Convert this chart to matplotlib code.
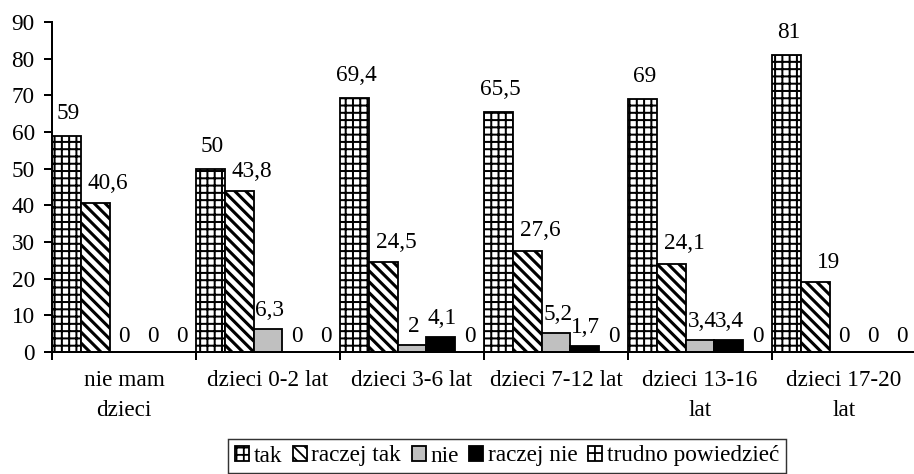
import numpy as np
import matplotlib.pyplot as plt

DPI = 131

categories = ['nie mam\ndzieci', 'dzieci 0-2 lat', 'dzieci 3-6 lat',
              'dzieci 7-12 lat', 'dzieci 13-16\nlat', 'dzieci 17-20\nlat']
series_names = ['tak', 'raczej tak', 'nie', 'raczej nie', 'trudno powiedzieć']

tak = [59, 50, 69.4, 65.5, 69, 81]
raczej_tak = [40.6, 43.8, 24.5, 27.6, 24.1, 19]
nie = [0, 6.3, 2, 5.2, 3.4, 0]
raczej_nie = [0, 0, 4.1, 1.7, 3.4, 0]
trudno = [0, 0, 0, 0, 0, 0]

series = [tak, raczej_tak, nie, raczej_nie, trudno]

# face colour, hatch, hatch line width, label offset (px) for each series
styles = [
    ('white', '+++', 1.1, (2, 22)),
    ('white', '\\\\\\\\', 1.7, (13, 20)),
    ('#c0c0c0', '', 1.0, (2, 18)),
    ('black', '', 1.0, (1, 18)),
    ('white', '++', 2.5, (0, 15)),
]

FONT = ['Liberation Serif', 'DejaVu Serif']
plt.rcParams['font.family'] = FONT
plt.rcParams['font.size'] = 12.8
plt.rcParams['hatch.color'] = 'black'

fig = plt.figure(figsize=(914 / DPI, 474 / DPI), dpi=DPI)
ax = fig.add_axes([52 / 914, 1 - 352 / 474, 864 / 914, 330 / 474])

n = len(categories)
width = 0.2
x = np.arange(n)


def fmt(v):
    return f'{v:g}'.replace('.', ',')


handles = []
for j, (vals, name, st) in enumerate(zip(series, series_names, styles)):
    face, hatch, hlw, (dx, dy) = st
    with plt.rc_context({'hatch.linewidth': hlw}):
        bars = ax.bar(x + width * (j + 0.5), vals, width, color=face,
                      edgecolor='black', linewidth=1.0, hatch=hatch,
                      label=name)
    handles.append(bars)
    for b, v in zip(bars, vals):
        off = (dx, dy) if v > 0 else (0, 15)
        ax.annotate(fmt(v), (b.get_x() + b.get_width() / 2, v),
                    xytext=off, textcoords='offset pixels',
                    ha='center', va='center')

ax.set_xlim(0, n)
ax.set_ylim(0, 90)
ax.set_yticks(np.arange(0, 91, 10))

# group borders get the tick marks, category names sit between them
ax.set_xticks(np.arange(0, n + 1))
ax.set_xticklabels([])
ax.set_xticks(x + 0.5, minor=True)
ax.set_xticklabels(categories, minor=True, linespacing=1.55)
ax.tick_params(axis='x', which='major', direction='out', length=4.5, width=1.1)
ax.tick_params(axis='x', which='minor', length=0, pad=10)
ax.tick_params(axis='y', direction='out', length=4.5, width=1.1, pad=5)

for s in ['top', 'right']:
    ax.spines[s].set_visible(False)
for s in ['left', 'bottom']:
    ax.spines[s].set_linewidth(1.1)

leg = fig.legend(handles=handles, loc='center', bbox_to_anchor=(507 / 914, 1 - 456 / 474),
                 ncol=5, frameon=True, fancybox=False, edgecolor='black',
                 prop={'family': FONT, 'size': 12.8},
                 handlelength=0.6, handleheight=0.6, handletextpad=0.2,
                 columnspacing=0.45, borderpad=0.3, borderaxespad=0)
leg.get_frame().set_linewidth(0.8)

fig.savefig('out.png', dpi=DPI)
